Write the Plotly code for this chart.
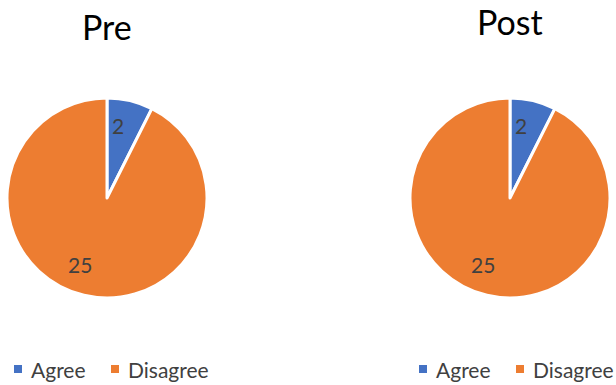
import math
import plotly.graph_objects as go

labels = ["Agree", "Disagree"]
pre_values = [2, 25]
post_values = [2, 25]
titles = ["Pre", "Post"]
colors = ["#4472C4", "#ED7D31"]

FONT = "Lato, Calibri, sans-serif"
W, H = 616, 385

# layout (pixels)
centers = [(107, 198), (510, 198)]
R = 98
title_y = [26, 21]
legend_x = [14, 419]
legend_y = 369
LABEL_R = 0.73

def px_x(x):
    return x / W

def px_y(y):
    return (H - y) / H

fig = go.Figure()
annotations = []
shapes = []
for i, vals in enumerate([pre_values, post_values]):
    cx, cy = centers[i]
    fig.add_trace(go.Pie(
        labels=labels, values=vals, sort=False, direction="clockwise", rotation=0,
        marker=dict(colors=colors, line=dict(color="white", width=3)),
        textinfo="none", showlegend=False,
        domain=dict(x=[px_x(cx - R - 2), px_x(cx + R + 2)],
                    y=[px_y(cy + R + 2), px_y(cy - R - 2)]),
        hoverinfo="label+value",
    ))
    # data labels anchored at mid-angle of each slice
    total = sum(vals)
    acc = 0
    for v in vals:
        mid = (acc + v / 2) / total * 2 * math.pi
        acc += v
        lx = cx + LABEL_R * R * math.sin(mid)
        ly = cy - LABEL_R * R * math.cos(mid)
        annotations.append(dict(text=str(v), x=px_x(lx), y=px_y(ly), xref="paper", yref="paper",
                                showarrow=False, xanchor="right", yanchor="middle",
                                borderpad=0, xshift=2, yshift=3,
                                font=dict(size=21, color="#404040", family=FONT)))
    # title
    annotations.append(dict(text=titles[i], x=px_x(cx), y=px_y(title_y[i]), xref="paper", yref="paper",
                            showarrow=False, xanchor="center", yanchor="middle",
                            font=dict(size=34, color="black", family=FONT)))
    # legend
    offs = [(0, 15), (97, 112)]
    for k, lab in enumerate(labels):
        sx = legend_x[i] + offs[k][0]
        tx = legend_x[i] + offs[k][1]
        shapes.append(dict(type="rect", xref="paper", yref="paper",
                           x0=px_x(sx), x1=px_x(sx + 8), y0=px_y(legend_y + 4), y1=px_y(legend_y - 4),
                           fillcolor=colors[k], line=dict(width=0)))
        annotations.append(dict(text=lab, x=px_x(tx), y=px_y(legend_y), xref="paper", yref="paper",
                                showarrow=False, xanchor="left", yanchor="middle",
                                font=dict(size=21, color="#404040", family=FONT)))

fig.update_layout(
    width=W, height=H,
    margin=dict(l=0, r=0, t=0, b=0),
    paper_bgcolor="white",
    font=dict(family=FONT, color="#404040"),
    showlegend=False,
    annotations=annotations,
    shapes=shapes,
)

fig.write_html("out.html")
